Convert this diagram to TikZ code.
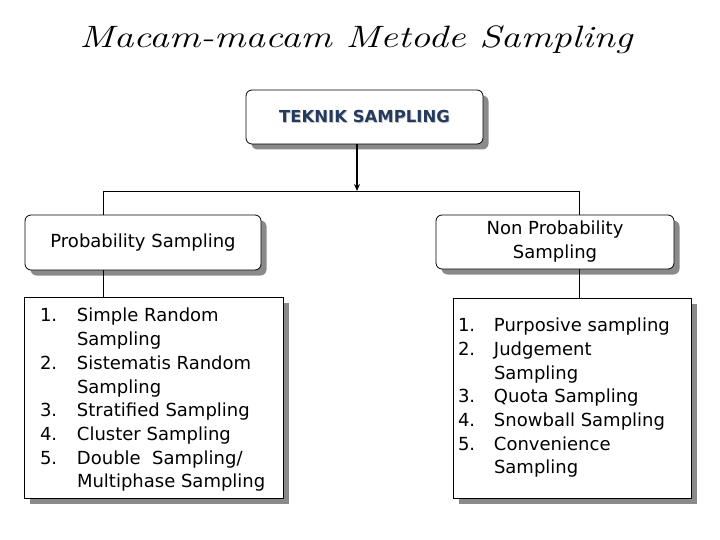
\documentclass[tikz,border=0pt]{standalone}
\usepackage{fontspec}
\usetikzlibrary{shadows,arrows.meta}
\newfontfamily\dv{DejaVu Sans}
\definecolor{navy}{HTML}{243B5E}
\definecolor{shade}{HTML}{8A8A8A}
\begin{document}
\begin{tikzpicture}[x=1pt,y=-1pt,
  boxshadow/.style={drop shadow={shadow xshift=5.5pt,shadow yshift=-5.5pt,fill=shade,opacity=1}},
  rbox/.style={draw=black,line width=0.8pt,fill=white,rounded corners=6pt,inner sep=0pt,boxshadow,
    font=\dv\fontsize{18}{24}\selectfont,align=center},
  listbox/.style={draw=black,line width=0.8pt,fill=white,inner sep=0pt,boxshadow,
    font=\dv\fontsize{18}{23.7}\selectfont},
  conn/.style={line width=0.8pt,draw=black},
  arr/.style={line width=1.3pt,draw=black,-{Stealth[length=7pt,width=6pt]}}]
\useasboundingbox (0,0) rectangle (720,540);

\node[font=\fontsize{30}{36}\selectfont\itshape,anchor=base] (title) at (356,48)
  {\scalebox{1.31}[1.03]{Macam-macam Metode Sampling}};

\node[rbox,minimum width=237pt,minimum height=54pt,text=navy,
  font=\dv\bfseries\fontsize{16.5}{20}\selectfont] (tek) at (364.5,117)
  {\rlap{\kern0.8pt\raisebox{-0.8pt}{\color{black!22}TEKNIK SAMPLING}}TEKNIK SAMPLING};

\node[rbox,minimum width=236pt,minimum height=55pt] (prob) at (143,242.5) {Probability Sampling};
\node[rbox,minimum width=238pt,minimum height=54pt] (np) at (555,242) {Non Probability\\Sampling};

\node[listbox,minimum width=259pt,minimum height=201pt] (left) at (153.5,397.5)
  {\makebox[227pt][l]{\begin{tabular}{@{}p{37pt}@{}l@{}}
  1.\rule{0pt}{22pt} & Simple Random\\
   & Sampling\\
  2. & Sistematis Random\\
   & Sampling\\
  3. & Stratified Sampling\\
  4. & Cluster Sampling\\
  5. & Double\ \ Sampling/\\
   & Multiphase Sampling
  \end{tabular}}};

\node[listbox,minimum width=238pt,minimum height=200pt] (right) at (572,398)
  {\makebox[228pt][l]{\begin{tabular}{@{}p{36pt}@{}l@{}}
  1. & Purposive sampling\\
  2. & Judgement\\
   & Sampling\\
  3. & Quota Sampling\\
  4. & Snowball Sampling\\
  5. & Convenience\\
   & Sampling
  \end{tabular}}};

\coordinate (hL) at (103,191);
\coordinate (hR) at (579,191);
\coordinate (ta) at (357,191);

\draw[arr] (tek.south -| ta) -- (ta);
\draw[conn] (hL) -- (hR);
\draw[conn] (hL) -- (prob.north -| hL);
\draw[conn] (prob.south -| hL) -- (left.north -| hL);
\draw[conn] (hR) -- (np.north -| hR);
\draw[conn] (np.south -| hR) -- (right.north -| hR);
\end{tikzpicture}
\end{document}
